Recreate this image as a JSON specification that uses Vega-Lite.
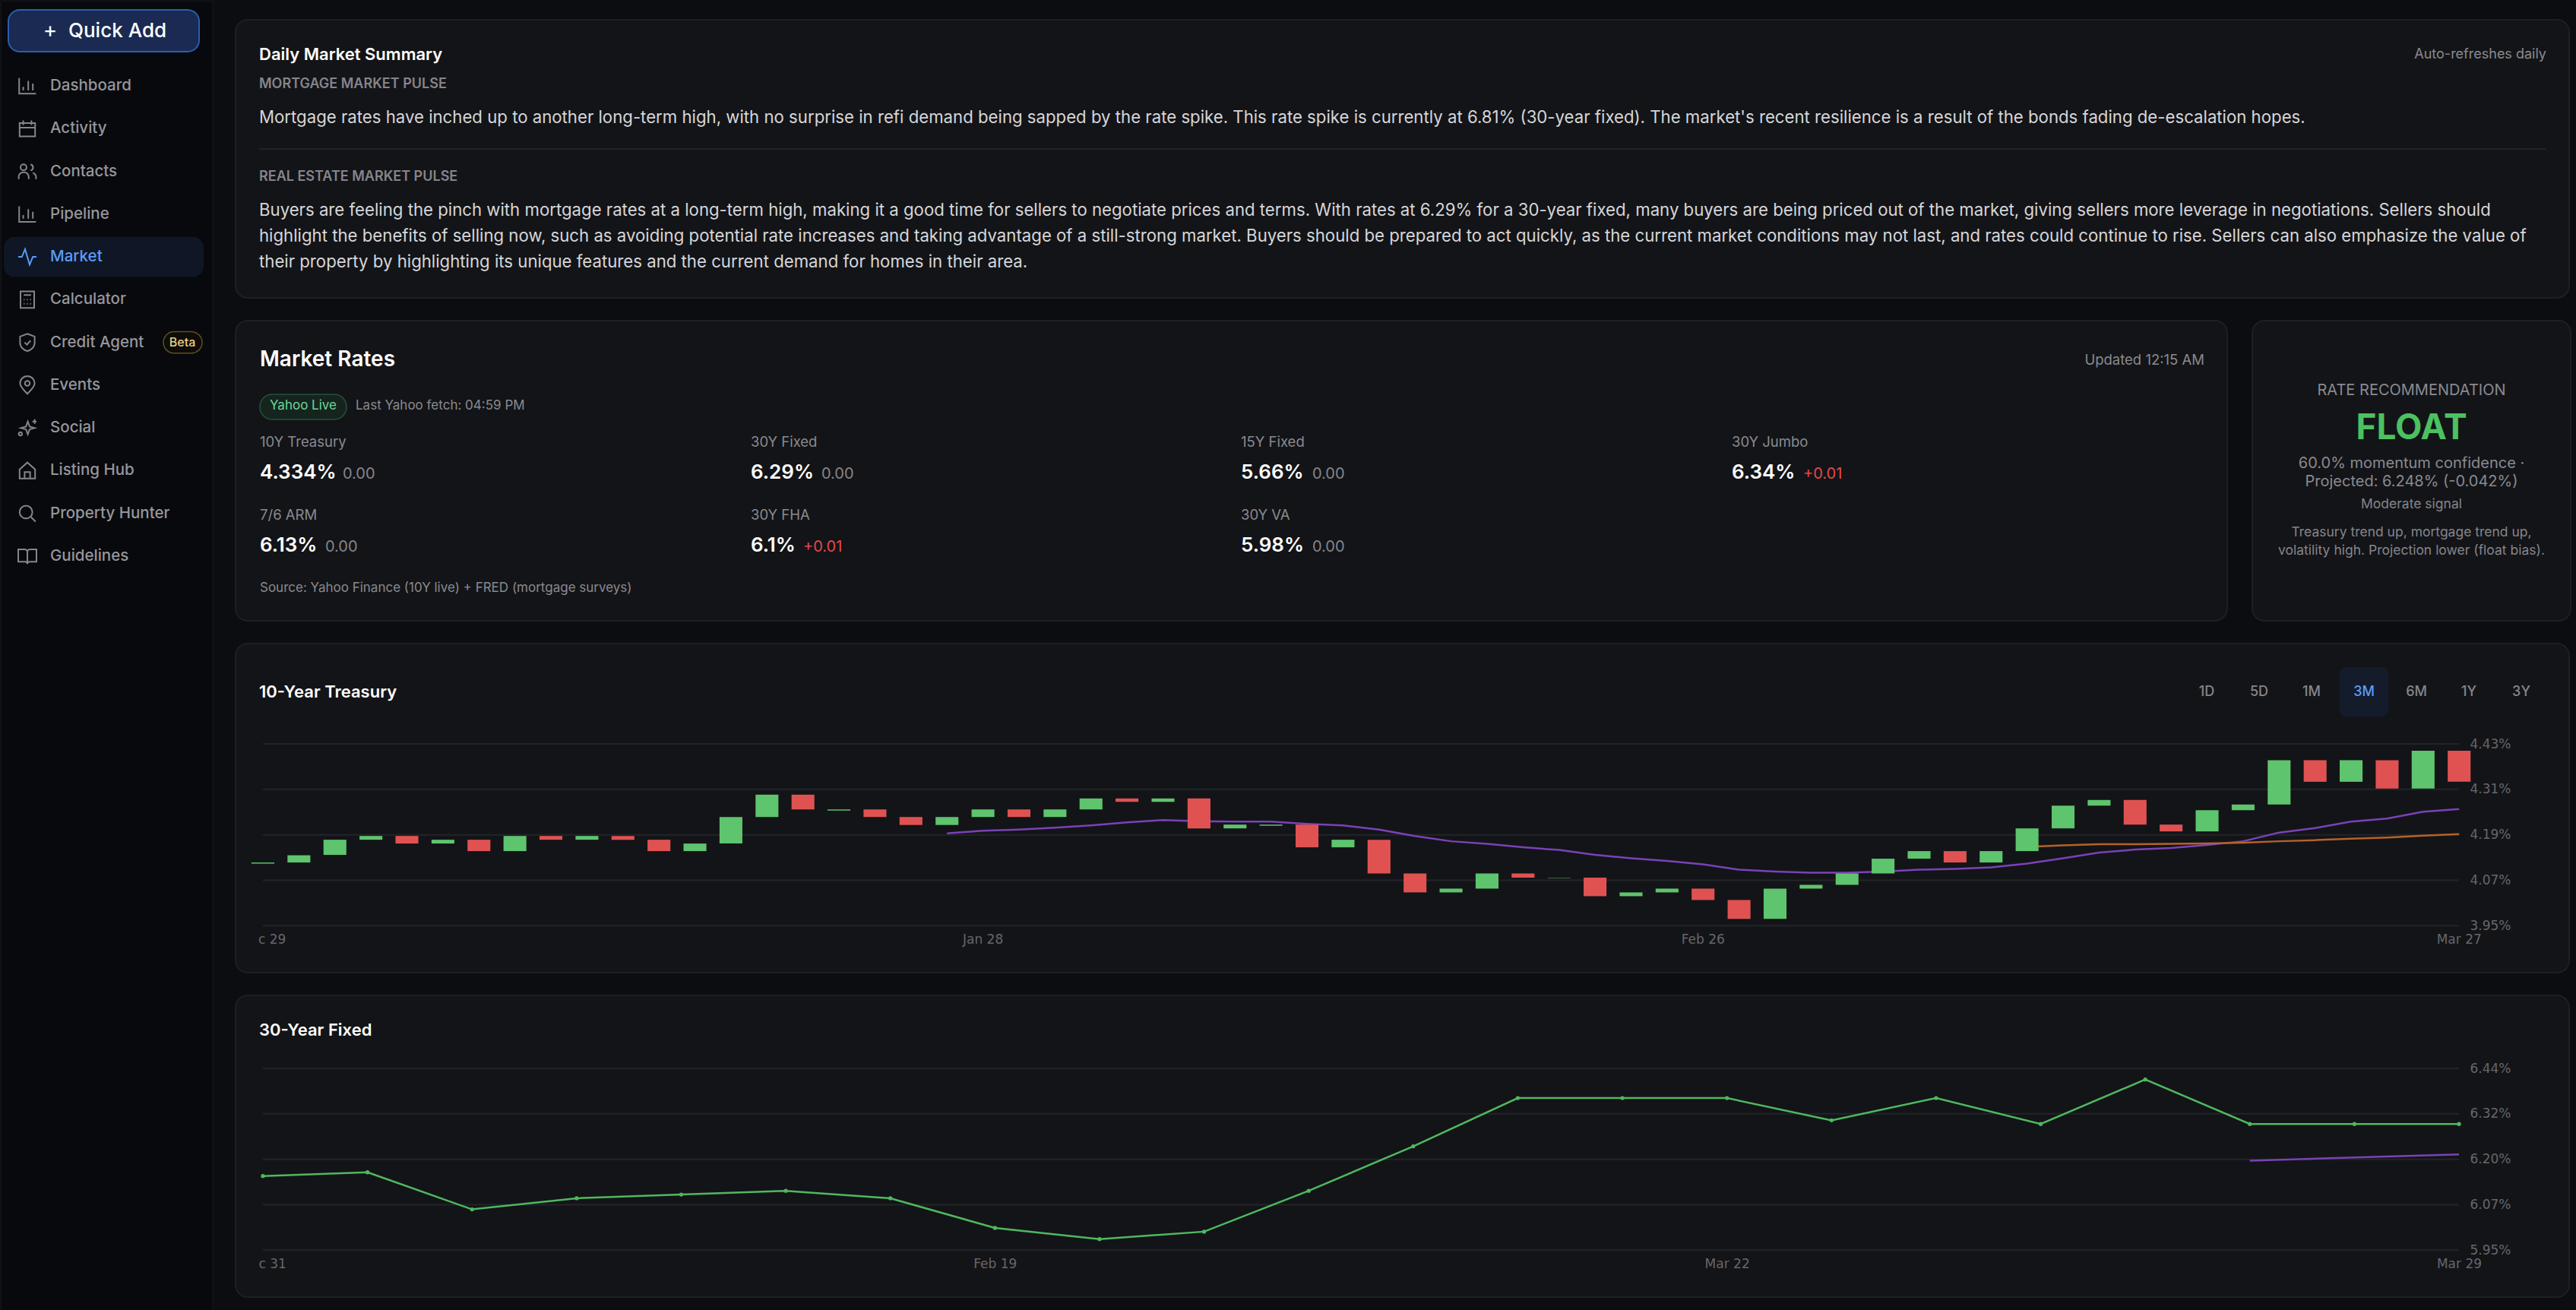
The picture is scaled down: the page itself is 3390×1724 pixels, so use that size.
{
  "$schema": "https://vega.github.io/schema/vega-lite/v6.json",
  "background": "#0c0d10",
  "padding": {"left": 0, "top": 0, "right": 12, "bottom": 0},
  "config": {
    "text": {"font": "Inter"},
    "axis": {"labelFont": "DejaVu Sans", "domain": false, "ticks": false, "grid": false, "title": null}
  },
  "datasets": {
    "candles": [
      {"date": "2025-12-29", "open": 4.114, "close": 4.117},
      {"date": "2025-12-30", "open": 4.117, "close": 4.136},
      {"date": "2025-12-31", "open": 4.137, "close": 4.177},
      {"date": "2026-01-02", "open": 4.177, "close": 4.187},
      {"date": "2026-01-05", "open": 4.187, "close": 4.167},
      {"date": "2026-01-06", "open": 4.167, "close": 4.177},
      {"date": "2026-01-07", "open": 4.177, "close": 4.147},
      {"date": "2026-01-08", "open": 4.147, "close": 4.187},
      {"date": "2026-01-09", "open": 4.187, "close": 4.177},
      {"date": "2026-01-12", "open": 4.177, "close": 4.187},
      {"date": "2026-01-13", "open": 4.187, "close": 4.177},
      {"date": "2026-01-14", "open": 4.177, "close": 4.147},
      {"date": "2026-01-15", "open": 4.147, "close": 4.167},
      {"date": "2026-01-16", "open": 4.167, "close": 4.237},
      {"date": "2026-01-20", "open": 4.237, "close": 4.296},
      {"date": "2026-01-21", "open": 4.296, "close": 4.257},
      {"date": "2026-01-22", "open": 4.254, "close": 4.257},
      {"date": "2026-01-23", "open": 4.257, "close": 4.237},
      {"date": "2026-01-26", "open": 4.237, "close": 4.216},
      {"date": "2026-01-27", "open": 4.216, "close": 4.237},
      {"date": "2026-01-28", "open": 4.237, "close": 4.257},
      {"date": "2026-01-29", "open": 4.257, "close": 4.237},
      {"date": "2026-01-30", "open": 4.237, "close": 4.257},
      {"date": "2026-02-02", "open": 4.257, "close": 4.286},
      {"date": "2026-02-03", "open": 4.286, "close": 4.277},
      {"date": "2026-02-04", "open": 4.277, "close": 4.286},
      {"date": "2026-02-05", "open": 4.286, "close": 4.207},
      {"date": "2026-02-06", "open": 4.207, "close": 4.217},
      {"date": "2026-02-09", "open": 4.214, "close": 4.217},
      {"date": "2026-02-10", "open": 4.217, "close": 4.157},
      {"date": "2026-02-11", "open": 4.157, "close": 4.177},
      {"date": "2026-02-12", "open": 4.177, "close": 4.088},
      {"date": "2026-02-13", "open": 4.088, "close": 4.038},
      {"date": "2026-02-17", "open": 4.038, "close": 4.048},
      {"date": "2026-02-18", "open": 4.048, "close": 4.088},
      {"date": "2026-02-19", "open": 4.088, "close": 4.077},
      {"date": "2026-02-20", "open": 4.076, "close": 4.077},
      {"date": "2026-02-23", "open": 4.077, "close": 4.028},
      {"date": "2026-02-24", "open": 4.028, "close": 4.038},
      {"date": "2026-02-25", "open": 4.038, "close": 4.048},
      {"date": "2026-02-26", "open": 4.048, "close": 4.018},
      {"date": "2026-02-27", "open": 4.018, "close": 3.968},
      {"date": "2026-03-02", "open": 3.968, "close": 4.048},
      {"date": "2026-03-03", "open": 4.048, "close": 4.058},
      {"date": "2026-03-04", "open": 4.058, "close": 4.088},
      {"date": "2026-03-05", "open": 4.088, "close": 4.127},
      {"date": "2026-03-06", "open": 4.127, "close": 4.147},
      {"date": "2026-03-09", "open": 4.147, "close": 4.117},
      {"date": "2026-03-10", "open": 4.117, "close": 4.147},
      {"date": "2026-03-11", "open": 4.147, "close": 4.207},
      {"date": "2026-03-12", "open": 4.207, "close": 4.267},
      {"date": "2026-03-13", "open": 4.267, "close": 4.282},
      {"date": "2026-03-16", "open": 4.282, "close": 4.217},
      {"date": "2026-03-17", "open": 4.217, "close": 4.199},
      {"date": "2026-03-18", "open": 4.199, "close": 4.255},
      {"date": "2026-03-19", "open": 4.255, "close": 4.27},
      {"date": "2026-03-20", "open": 4.27, "close": 4.387},
      {"date": "2026-03-23", "open": 4.387, "close": 4.33},
      {"date": "2026-03-24", "open": 4.33, "close": 4.387},
      {"date": "2026-03-25", "open": 4.387, "close": 4.312},
      {"date": "2026-03-26", "open": 4.312, "close": 4.412},
      {"date": "2026-03-27", "open": 4.412, "close": 4.33}
    ],
    "treasuryAvg20": [
      {"date": "2026-01-27", "value": 4.194},
      {"date": "2026-01-28", "value": 4.201},
      {"date": "2026-01-29", "value": 4.204},
      {"date": "2026-01-30", "value": 4.209},
      {"date": "2026-02-02", "value": 4.215},
      {"date": "2026-02-03", "value": 4.223},
      {"date": "2026-02-04", "value": 4.229},
      {"date": "2026-02-05", "value": 4.226},
      {"date": "2026-02-06", "value": 4.225},
      {"date": "2026-02-09", "value": 4.225},
      {"date": "2026-02-10", "value": 4.219},
      {"date": "2026-02-11", "value": 4.215},
      {"date": "2026-02-12", "value": 4.204},
      {"date": "2026-02-13", "value": 4.187},
      {"date": "2026-02-17", "value": 4.173},
      {"date": "2026-02-18", "value": 4.166},
      {"date": "2026-02-19", "value": 4.157},
      {"date": "2026-02-20", "value": 4.15},
      {"date": "2026-02-23", "value": 4.137},
      {"date": "2026-02-24", "value": 4.128},
      {"date": "2026-02-25", "value": 4.121},
      {"date": "2026-02-26", "value": 4.112},
      {"date": "2026-02-27", "value": 4.098},
      {"date": "2026-03-02", "value": 4.093},
      {"date": "2026-03-03", "value": 4.09},
      {"date": "2026-03-04", "value": 4.09},
      {"date": "2026-03-05", "value": 4.093},
      {"date": "2026-03-06", "value": 4.098},
      {"date": "2026-03-09", "value": 4.1},
      {"date": "2026-03-10", "value": 4.104},
      {"date": "2026-03-11", "value": 4.114},
      {"date": "2026-03-12", "value": 4.128},
      {"date": "2026-03-13", "value": 4.143},
      {"date": "2026-03-16", "value": 4.151},
      {"date": "2026-03-17", "value": 4.155},
      {"date": "2026-03-18", "value": 4.163},
      {"date": "2026-03-19", "value": 4.173},
      {"date": "2026-03-20", "value": 4.196},
      {"date": "2026-03-23", "value": 4.208},
      {"date": "2026-03-24", "value": 4.225},
      {"date": "2026-03-25", "value": 4.233},
      {"date": "2026-03-26", "value": 4.251},
      {"date": "2026-03-27", "value": 4.258}
    ],
    "treasuryAvg50": [
      {"date": "2026-03-11", "value": 4.158},
      {"date": "2026-03-12", "value": 4.162},
      {"date": "2026-03-13", "value": 4.165},
      {"date": "2026-03-16", "value": 4.165},
      {"date": "2026-03-17", "value": 4.166},
      {"date": "2026-03-18", "value": 4.167},
      {"date": "2026-03-19", "value": 4.169},
      {"date": "2026-03-20", "value": 4.173},
      {"date": "2026-03-23", "value": 4.176},
      {"date": "2026-03-24", "value": 4.18},
      {"date": "2026-03-25", "value": 4.183},
      {"date": "2026-03-26", "value": 4.188},
      {"date": "2026-03-27", "value": 4.192}
    ],
    "treasuryGrid": [
      {"level": 3.95, "start": "2025-12-29", "end": "2026-03-27"},
      {"level": 4.07, "start": "2025-12-29", "end": "2026-03-27"},
      {"level": 4.19, "start": "2025-12-29", "end": "2026-03-27"},
      {"level": 4.31, "start": "2025-12-29", "end": "2026-03-27"},
      {"level": 4.43, "start": "2025-12-29", "end": "2026-03-27"}
    ],
    "fixed30": [
      {"date": "2025-12-31", "rate": 6.15},
      {"date": "2026-01-08", "rate": 6.16},
      {"date": "2026-01-15", "rate": 6.06},
      {"date": "2026-01-22", "rate": 6.09},
      {"date": "2026-01-29", "rate": 6.1},
      {"date": "2026-02-05", "rate": 6.11},
      {"date": "2026-02-12", "rate": 6.09},
      {"date": "2026-02-19", "rate": 6.01},
      {"date": "2026-02-26", "rate": 5.98},
      {"date": "2026-03-05", "rate": 6},
      {"date": "2026-03-12", "rate": 6.11},
      {"date": "2026-03-19", "rate": 6.23},
      {"date": "2026-03-20", "rate": 6.36},
      {"date": "2026-03-21", "rate": 6.36},
      {"date": "2026-03-22", "rate": 6.36},
      {"date": "2026-03-23", "rate": 6.3},
      {"date": "2026-03-24", "rate": 6.36},
      {"date": "2026-03-25", "rate": 6.29},
      {"date": "2026-03-26", "rate": 6.41},
      {"date": "2026-03-27", "rate": 6.29},
      {"date": "2026-03-28", "rate": 6.29},
      {"date": "2026-03-29", "rate": 6.29}
    ],
    "fixedAvg": [
      {"date": "2026-03-27", "value": 6.191},
      {"date": "2026-03-28", "value": 6.2},
      {"date": "2026-03-29", "value": 6.208}
    ],
    "fixedGrid": [
      {"level": 5.95, "start": "2025-12-31", "end": "2026-03-29"},
      {"level": 6.0725, "start": "2025-12-31", "end": "2026-03-29"},
      {"level": 6.195, "start": "2025-12-31", "end": "2026-03-29"},
      {"level": 6.3175, "start": "2025-12-31", "end": "2026-03-29"},
      {"level": 6.44, "start": "2025-12-31", "end": "2026-03-29"}
    ]
  },
  "spacing": 28,
  "hconcat": [
    {
      "width": 279,
      "height": 1724,
      "view": {"fill": "#08090c", "stroke": "#17181c"},
      "encoding": {
        "x": {"field": "col", "type": "quantitative", "axis": null, "scale": {"domain": [0, 1, 2, 3, 4, 5, 6, 7, 8, 9], "range": [4, 10, 35, 65, 89, 214, 239, 261, 265, 267]}},
        "y": {"field": "row", "type": "quantitative", "axis": null, "scale": {"domain": [0, 1, 2, 3, 14], "range": [12, 40, 67, 112, 731]}}
      },
      "layer": [
        {
          "data": {"values": [{"col": 1, "col2": 7, "row": 0, "row2": 2}]},
          "mark": {"type": "rect", "fill": "#1a2a52", "stroke": "#2c5cb0", "strokeWidth": 2, "cornerRadius": 15},
          "encoding": {"x2": {"field": "col2"}, "y2": {"field": "row2"}}
        },
        {
          "data": {"values": [{"col": 0, "col2": 9, "row": 6.53, "row2": 7.47}]},
          "mark": {"type": "rect", "fill": "#0f1626", "cornerRadius": 14},
          "encoding": {"x2": {"field": "col2"}, "y2": {"field": "row2"}}
        },
        {
          "data": {"values": [{"col": 5, "col2": 8, "row": 8.75, "row2": 9.25}]},
          "mark": {"type": "rect", "fill": "#0d0c09", "stroke": "#5e4e22", "strokeWidth": 1.5, "cornerRadius": 14},
          "encoding": {"x2": {"field": "col2"}, "y2": {"field": "row2"}}
        },
        {
          "data": {"values": [
            {"col": 2, "row": 3, "item": "Dashboard"},
            {"col": 2, "row": 4, "item": "Activity"},
            {"col": 2, "row": 5, "item": "Contacts"},
            {"col": 2, "row": 6, "item": "Pipeline"},
            {"col": 2, "row": 7, "item": "Market"},
            {"col": 2, "row": 8, "item": "Calculator"},
            {"col": 2, "row": 9, "item": "Credit Agent"},
            {"col": 2, "row": 10, "item": "Events"},
            {"col": 2, "row": 11, "item": "Social"},
            {"col": 2, "row": 12, "item": "Listing Hub"},
            {"col": 2, "row": 13, "item": "Property Hunter"},
            {"col": 2, "row": 14, "item": "Guidelines"}
          ]},
          "mark": {"type": "point", "filled": false, "size": 576, "strokeWidth": 2, "opacity": 1},
          "encoding": {
            "shape": {
              "field": "item",
              "legend": null,
              "scale": {
                "domain": ["Dashboard", "Activity", "Contacts", "Pipeline", "Market", "Calculator", "Credit Agent", "Events", "Social", "Listing Hub", "Property Hunter", "Guidelines"],
                "range": [
                  "M-.9 -.85V.85H.95M-.45 .5V.1M.1 .5V-.55M.6 .5V-.25",
                  "M-.85 -.6H.85V.85H-.85ZM-.85 -.1H.85M-.45 -.9V-.4M.45 -.9V-.4",
                  "M-.75 -.45A.33 .33 0 1 1 -.09 -.45A.33 .33 0 1 1 -.75 -.45ZM-.95 .85V.6A.5 .5 0 0 1 -.45 .1H-.35A.5 .5 0 0 1 .15 .6V.85M.35 -.75A.33 .33 0 0 1 .35 -.1M.6 .15A.5 .5 0 0 1 .95 .6V.85",
                  "M-.9 -.85V.85H.95M-.45 .5V.1M.1 .5V-.55M.6 .5V-.25",
                  "M-1 0H-.6L-.25 -.85L.25 .85L.6 0H1",
                  "M-.75 -.9H.75V.9H-.75ZM-.4 -.5H.4M-.4 0H-.3M-.05 0H.05M.3 0H.4M-.4 .45H-.3M-.05 .45H.05M.3 .45H.4",
                  "M0 -.95L.8 -.65V.05C.8 .55 .35 .85 0 .95C-.35 .85 -.8 .55 -.8 .05V-.65ZM-.3 0L-.05 .25L.35 -.2",
                  "M0 .95C-.5 .45 -.8 .05 -.8 -.2A.8 .8 0 0 1 .8 -.2C.8 .05 .5 .45 0 .95ZM-.27 -.2A.27 .27 0 1 1 .27 -.2A.27 .27 0 1 1 -.27 -.2Z",
                  "M.05 -.7L.25 -.15L.8 0L.25 .15L.05 .7L-.15 .15L-.7 0L-.15 -.15ZM.8 -.95V-.45M.55 -.7H1M-.95 .65A.18 .18 0 1 1 -.59 .65A.18 .18 0 1 1 -.95 .65Z",
                  "M-.85 -.15L0 -.9L.85 -.15V.85H-.85ZM-.3 .85V.15H.3V.85",
                  "M-.85 -.15A.7 .7 0 1 1 .55 -.15A.7 .7 0 1 1 -.85 -.15ZM.4 .4L.9 .9",
                  "M0 -.5V.85M-1 -.75H-.3A.3 .3 0 0 1 0 -.45A.3 .3 0 0 1 .3 -.75H1V.6H.25A.25 .25 0 0 0 0 .85A.25 .25 0 0 0 -.25 .6H-1Z"
                ]
              }
            },
            "stroke": {"condition": {"test": "datum.item == 'Market'", "value": "#5b9bf5"}, "value": "#85858c"}
          }
        },
        {
          "data": {"values": [
            {"col": 3, "row": 3, "text": "Dashboard"},
            {"col": 3, "row": 4, "text": "Activity"},
            {"col": 3, "row": 5, "text": "Contacts"},
            {"col": 3, "row": 6, "text": "Pipeline"},
            {"col": 3, "row": 7, "text": "Market"},
            {"col": 3, "row": 8, "text": "Calculator"},
            {"col": 3, "row": 9, "text": "Credit Agent"},
            {"col": 3, "row": 10, "text": "Events"},
            {"col": 3, "row": 11, "text": "Social"},
            {"col": 3, "row": 12, "text": "Listing Hub"},
            {"col": 3, "row": 13, "text": "Property Hunter"},
            {"col": 3, "row": 14, "text": "Guidelines"}
          ]},
          "mark": {"type": "text", "align": "left", "baseline": "middle", "fontSize": 20.5, "fontWeight": 500},
          "encoding": {
            "text": {"field": "text"},
            "color": {"condition": {"test": "datum.text == 'Market'", "value": "#5b9bf5"}, "value": "#96969c"}
          }
        },
        {
          "data": {"values": [{"col": 4, "row": 1, "text": "Quick Add"}]},
          "mark": {"type": "text", "align": "left", "baseline": "middle", "fontSize": 26, "fontWeight": 500, "color": "#ffffff"},
          "encoding": {"text": {"field": "text"}}
        },
        {
          "data": {"values": [{"col": 3, "row": 1, "text": "+"}]},
          "mark": {"type": "text", "align": "center", "baseline": "middle", "fontSize": 28, "color": "#ffffff"},
          "encoding": {"text": {"field": "text"}}
        },
        {
          "data": {"values": [{"col": 6, "row": 9, "text": "Beta"}]},
          "mark": {"type": "text", "align": "center", "baseline": "middle", "fontSize": 16, "fontWeight": 500, "color": "#e8cf80"},
          "encoding": {"text": {"field": "text"}}
        }
      ]
    },
    {
      "spacing": 23,
      "vconcat": [
        {
          "width": 10,
          "height": 1,
          "data": {"values": [{"gap": 1}]},
          "mark": {"type": "rect", "opacity": 0}
        },
        {
          "spacing": 28,
          "vconcat": [
            {
              "width": 3071,
              "height": 366,
              "view": {"fill": "#131417", "stroke": "#1e1f23", "strokeWidth": 2, "cornerRadius": 16},
              "encoding": {
                "x": {"field": "col", "type": "nominal", "axis": null, "scale": {"type": "point", "padding": 0, "domain": ["left", "right"], "range": [31, 3041]}},
                "y": {"field": "line", "type": "quantitative", "axis": null, "scale": {"domain": [1, 2, 3, 4, 5, 6, 7, 8], "range": [46, 85, 129, 170, 207, 251, 285, 319]}}
              },
              "layer": [
                {
                  "data": {"values": [{"col": "left", "col2": "right", "line": 4}]},
                  "mark": {"type": "rule", "stroke": "#222327", "strokeWidth": 2},
                  "encoding": {"x2": {"field": "col2"}}
                },
                {
                  "data": {"values": [{"col": "left", "line": 1, "text": "Daily Market Summary"}]},
                  "mark": {"type": "text", "align": "left", "baseline": "middle", "fontSize": 22, "fontWeight": 600, "color": "#ffffff"},
                  "encoding": {"text": {"field": "text"}}
                },
                {
                  "data": {"values": [{"col": "right", "line": 1, "text": "Auto-refreshes daily"}]},
                  "mark": {"type": "text", "align": "right", "baseline": "middle", "fontSize": 18, "color": "#8a8a90"},
                  "encoding": {"text": {"field": "text"}}
                },
                {
                  "data": {"values": [
                    {"col": "left", "line": 2, "text": "MORTGAGE MARKET PULSE"},
                    {"col": "left", "line": 5, "text": "REAL ESTATE MARKET PULSE"}
                  ]},
                  "mark": {"type": "text", "align": "left", "baseline": "middle", "fontSize": 18, "fontWeight": 600, "color": "#85858c"},
                  "encoding": {"text": {"field": "text"}}
                },
                {
                  "data": {"values": [
                    {"col": "left", "line": 3, "text": "Mortgage rates have inched up to another long-term high, with no surprise in refi demand being sapped by the rate spike. This rate spike is currently at 6.81% (30-year fixed). The market's recent resilience is a result of the bonds fading de-escalation hopes."},
                    {"col": "left", "line": 6, "text": "Buyers are feeling the pinch with mortgage rates at a long-term high, making it a good time for sellers to negotiate prices and terms. With rates at 6.29% for a 30-year fixed, many buyers are being priced out of the market, giving sellers more leverage in negotiations. Sellers should"},
                    {"col": "left", "line": 7, "text": "highlight the benefits of selling now, such as avoiding potential rate increases and taking advantage of a still-strong market. Buyers should be prepared to act quickly, as the current market conditions may not last, and rates could continue to rise. Sellers can also emphasize the value of"},
                    {"col": "left", "line": 8, "text": "their property by highlighting its unique features and the current demand for homes in their area."}
                  ]},
                  "mark": {"type": "text", "align": "left", "baseline": "middle", "fontSize": 22.2, "color": "#d6d6da"},
                  "encoding": {"text": {"field": "text"}}
                }
              ]
            },
            {
              "spacing": 31,
              "hconcat": [
                {
                  "width": 2621,
                  "height": 395,
                  "view": {"fill": "#131417", "stroke": "#1e1f23", "strokeWidth": 2, "cornerRadius": 16},
                  "encoding": {
                    "x": {"field": "slot", "type": "quantitative", "axis": null, "scale": {"domain": [0, 1, 2, 3, 4, 5, 6, 7, 8, 9, 10, 11, 12, 13], "range": [32, 89, 118, 141, 146, 158, 678, 747, 771, 1323, 1417, 1969, 2063, 2591]}},
                    "y": {"field": "line", "type": "quantitative", "axis": null, "scale": {"domain": [1, 2, 3, 4, 5, 6, 7, 8, 9], "range": [52, 97, 112, 130, 160, 208, 256, 304, 352]}}
                  },
                  "layer": [
                    {
                      "data": {"values": [{"slot": 0, "slot2": 4, "line": 2, "line2": 4}]},
                      "mark": {"type": "rect", "fill": "#15251e", "stroke": "#245239", "strokeWidth": 1.5, "cornerRadius": 16},
                      "encoding": {"x2": {"field": "slot2"}, "y2": {"field": "line2"}}
                    },
                    {
                      "data": {"values": [{"slot": 0, "line": 1, "text": "Market Rates"}]},
                      "mark": {"type": "text", "align": "left", "baseline": "middle", "fontSize": 28, "fontWeight": 600, "color": "#ffffff"},
                      "encoding": {"text": {"field": "text"}}
                    },
                    {
                      "data": {"values": [{"slot": 13, "line": 1, "text": "Updated 12:15 AM"}]},
                      "mark": {"type": "text", "align": "right", "baseline": "middle", "fontSize": 18.5, "color": "#8a8a90"},
                      "encoding": {"text": {"field": "text"}}
                    },
                    {
                      "data": {"values": [{"slot": 1, "line": 3, "text": "Yahoo Live"}]},
                      "mark": {"type": "text", "align": "center", "baseline": "middle", "fontSize": 17, "color": "#6fd69a"},
                      "encoding": {"text": {"field": "text"}}
                    },
                    {
                      "data": {"values": [
                        {"slot": 5, "line": 3, "text": "Last Yahoo fetch: 04:59 PM"},
                        {"slot": 0, "line": 9, "text": "Source: Yahoo Finance (10Y live) + FRED (mortgage surveys)"}
                      ]},
                      "mark": {"type": "text", "align": "left", "baseline": "middle", "fontSize": 17, "color": "#8a8a90"},
                      "encoding": {"text": {"field": "text"}}
                    },
                    {
                      "data": {"values": [
                        {"slot": 0, "line": 5, "text": "10Y Treasury"},
                        {"slot": 6, "line": 5, "text": "30Y Fixed"},
                        {"slot": 9, "line": 5, "text": "15Y Fixed"},
                        {"slot": 11, "line": 5, "text": "30Y Jumbo"},
                        {"slot": 0, "line": 7, "text": "7/6 ARM"},
                        {"slot": 6, "line": 7, "text": "30Y FHA"},
                        {"slot": 9, "line": 7, "text": "30Y VA"}
                      ]},
                      "mark": {"type": "text", "align": "left", "baseline": "middle", "fontSize": 18.5, "color": "#8a8a90"},
                      "encoding": {"text": {"field": "text"}}
                    },
                    {
                      "data": {"values": [
                        {"slot": 0, "line": 6, "text": "4.334%"},
                        {"slot": 6, "line": 6, "text": "6.29%"},
                        {"slot": 9, "line": 6, "text": "5.66%"},
                        {"slot": 11, "line": 6, "text": "6.34%"},
                        {"slot": 0, "line": 8, "text": "6.13%"},
                        {"slot": 6, "line": 8, "text": "6.1%"},
                        {"slot": 9, "line": 8, "text": "5.98%"}
                      ]},
                      "mark": {"type": "text", "align": "left", "baseline": "alphabetic", "fontSize": 26, "fontWeight": 600, "color": "#ffffff"},
                      "encoding": {"text": {"field": "text"}}
                    },
                    {
                      "data": {"values": [
                        {"slot": 3, "line": 6, "text": "0.00"},
                        {"slot": 8, "line": 6, "text": "0.00"},
                        {"slot": 10, "line": 6, "text": "0.00"},
                        {"slot": 12, "line": 6, "text": "+0.01"},
                        {"slot": 2, "line": 8, "text": "0.00"},
                        {"slot": 7, "line": 8, "text": "+0.01"},
                        {"slot": 10, "line": 8, "text": "0.00"}
                      ]},
                      "mark": {"type": "text", "align": "left", "baseline": "alphabetic", "fontSize": 20},
                      "encoding": {
                        "text": {"field": "text"},
                        "color": {"condition": {"test": "datum.text == '+0.01'", "value": "#e5484d"}, "value": "#85858c"}
                      }
                    }
                  ]
                },
                {
                  "width": 419,
                  "height": 395,
                  "view": {"fill": "#131417", "stroke": "#1e1f23", "strokeWidth": 2, "cornerRadius": 16},
                  "data": {"values": [
                    {"line": 1, "text": "RATE RECOMMENDATION"},
                    {"line": 2, "text": "FLOAT"},
                    {"line": 3, "text": "60.0% momentum confidence ·"},
                    {"line": 4, "text": "Projected: 6.248% (-0.042%)"},
                    {"line": 5, "text": "Moderate signal"},
                    {"line": 6, "text": "Treasury trend up, mortgage trend up,"},
                    {"line": 7, "text": "volatility high. Projection lower (float bias)."}
                  ]},
                  "encoding": {
                    "x": {"datum": "center", "type": "nominal", "axis": null},
                    "y": {"field": "line", "type": "quantitative", "axis": null, "scale": {"domain": [1, 2, 3, 4, 5, 6, 7], "range": [92, 142, 188, 212, 242, 279, 303]}},
                    "text": {"field": "text"}
                  },
                  "layer": [
                    {
                      "transform": [{"filter": "datum.line == 1"}],
                      "mark": {"type": "text", "baseline": "middle", "fontSize": 20, "color": "#8a8a90"}
                    },
                    {
                      "transform": [{"filter": "datum.line == 2"}],
                      "mark": {"type": "text", "baseline": "middle", "fontSize": 46, "fontWeight": 700, "color": "#4cc160"}
                    },
                    {
                      "transform": [{"filter": "datum.line == 3 || datum.line == 4"}],
                      "mark": {"type": "text", "baseline": "middle", "fontSize": 20, "color": "#8a8a90"}
                    },
                    {
                      "transform": [{"filter": "datum.line >= 5"}],
                      "mark": {"type": "text", "baseline": "middle", "fontSize": 17.5, "color": "#85858c"}
                    }
                  ]
                }
              ]
            },
            {
              "width": 3071,
              "height": 433,
              "view": {"fill": "#131417", "stroke": "#1e1f23", "strokeWidth": 2, "cornerRadius": 16},
              "resolve": {"scale": {"x": "independent", "y": "independent"}, "axis": {"x": "independent", "y": "independent"}},
              "layer": [
                {
                  "encoding": {
                    "x": {
                      "field": "date",
                      "type": "ordinal",
                      "scale": {"type": "band", "range": [12.3, 2949.9], "paddingInner": 0.365, "paddingOuter": 0.1825},
                      "axis": {
                        "orient": "bottom",
                        "offset": -61.7,
                        "values": ["2025-12-29", "2026-01-28", "2026-02-26", "2026-03-27"],
                        "labelExpr": "datum.value == '2025-12-29' ? 'c 29' : datum.value == '2026-01-28' ? 'Jan 28' : datum.value == '2026-02-26' ? 'Feb 26' : 'Mar 27'",
                        "labelAngle": 0,
                        "labelAlign": {"condition": {"test": "datum.value == '2025-12-29'", "value": "left"}, "value": "center"},
                        "labelOffset": {"condition": {"test": "datum.value == '2025-12-29'", "value": -6}, "value": 0},
                        "labelBaseline": "middle",
                        "labelPadding": 18,
                        "labelFontSize": 17,
                        "labelColor": "#66666c",
                        "labelOverlap": false,
                        "labelBound": false,
                        "labelFlush": false
                      }
                    },
                    "y": {
                      "type": "quantitative",
                      "scale": {"domain": [3.95, 4.43], "range": [371.3, 132], "nice": false, "zero": false},
                      "axis": {
                        "orient": "right",
                        "offset": -145,
                        "values": [3.95, 4.07, 4.19, 4.31, 4.43],
                        "labelExpr": "format(datum.value, '.2f') + '%'",
                        "labelPadding": 14,
                        "labelFontSize": 17,
                        "labelColor": "#66666c",
                        "labelOverlap": false,
                        "labelBound": false,
                        "labelFlush": false
                      }
                    }
                  },
                  "layer": [
                    {
                      "data": {"name": "treasuryGrid"},
                      "mark": {"type": "rule", "stroke": "#232428", "strokeWidth": 2},
                      "encoding": {"x": {"field": "start"}, "x2": {"field": "end"}, "y": {"field": "level"}}
                    },
                    {
                      "data": {"name": "treasuryAvg20"},
                      "mark": {"type": "line", "stroke": "#7a42b8", "strokeWidth": 2.5},
                      "encoding": {"y": {"field": "value"}}
                    },
                    {
                      "data": {"name": "treasuryAvg50"},
                      "mark": {"type": "line", "stroke": "#b5622a", "strokeWidth": 2.5},
                      "encoding": {"y": {"field": "value"}}
                    },
                    {
                      "data": {"name": "candles"},
                      "mark": {"type": "bar"},
                      "encoding": {
                        "y": {"field": "open"},
                        "y2": {"field": "close"},
                        "color": {"condition": {"test": "datum.close >= datum.open", "value": "#5ec46e"}, "value": "#e05252"}
                      }
                    }
                  ]
                },
                {
                  "data": {"values": [{"range": "3M", "panel": "buttons"}]},
                  "mark": {"type": "rect", "fill": "#141b2b", "cornerRadius": 10},
                  "encoding": {
                    "x": {"field": "range", "type": "nominal", "axis": null, "scale": {"type": "band", "domain": ["1D", "5D", "1M", "3M", "6M", "1Y", "3Y"], "range": [2559.5, 3042.5], "paddingInner": 0.06, "paddingOuter": 0.03}},
                    "y": {"field": "panel", "type": "nominal", "axis": null, "scale": {"type": "band", "domain": ["buttons"], "range": [31, 96], "padding": 0}}
                  }
                },
                {
                  "data": {"values": [
                    {"range": "1D", "panel": "buttons"},
                    {"range": "5D", "panel": "buttons"},
                    {"range": "1M", "panel": "buttons"},
                    {"range": "3M", "panel": "buttons"},
                    {"range": "6M", "panel": "buttons"},
                    {"range": "1Y", "panel": "buttons"},
                    {"range": "3Y", "panel": "buttons"}
                  ]},
                  "mark": {"type": "text", "align": "center", "baseline": "middle", "fontSize": 18, "fontWeight": 500},
                  "encoding": {
                    "x": {"field": "range", "type": "nominal", "axis": null, "scale": {"type": "band", "domain": ["1D", "5D", "1M", "3M", "6M", "1Y", "3Y"], "range": [2559.5, 3042.5], "paddingInner": 0.06, "paddingOuter": 0.03}},
                    "y": {"field": "panel", "type": "nominal", "axis": null, "scale": {"type": "band", "domain": ["buttons"], "range": [31, 96], "padding": 0}},
                    "text": {"field": "range"},
                    "color": {"condition": {"test": "datum.range == '3M'", "value": "#5b9bf5"}, "value": "#85858c"}
                  }
                },
                {
                  "data": {"values": [{"title": "10-Year Treasury"}]},
                  "mark": {"type": "text", "align": "left", "baseline": "middle", "fontSize": 22, "fontWeight": 600, "color": "#ffffff"},
                  "encoding": {
                    "x": {"field": "title", "type": "nominal", "axis": null, "scale": {"type": "point", "range": [31, 31]}},
                    "y": {"field": "title", "type": "nominal", "axis": null, "scale": {"type": "point", "range": [64, 64]}},
                    "text": {"field": "title"}
                  }
                }
              ]
            },
            {
              "width": 3071,
              "height": 397,
              "view": {"fill": "#131417", "stroke": "#1e1f23", "strokeWidth": 2, "cornerRadius": 16},
              "resolve": {"scale": {"x": "independent", "y": "independent"}, "axis": {"x": "independent", "y": "independent"}},
              "layer": [
                {
                  "encoding": {
                    "x": {
                      "field": "date",
                      "type": "ordinal",
                      "scale": {"type": "point", "padding": 0, "range": [36, 2926]},
                      "axis": {
                        "orient": "bottom",
                        "offset": -61.7,
                        "values": ["2025-12-31", "2026-02-19", "2026-03-22", "2026-03-29"],
                        "labelExpr": "datum.value == '2025-12-31' ? 'c 31' : datum.value == '2026-02-19' ? 'Feb 19' : datum.value == '2026-03-22' ? 'Mar 22' : 'Mar 29'",
                        "labelAngle": 0,
                        "labelAlign": {"condition": {"test": "datum.value == '2025-12-31'", "value": "left"}, "value": "center"},
                        "labelOffset": {"condition": {"test": "datum.value == '2025-12-31'", "value": -6}, "value": 0},
                        "labelBaseline": "middle",
                        "labelPadding": 18,
                        "labelFontSize": 17,
                        "labelColor": "#66666c",
                        "labelOverlap": false,
                        "labelBound": false,
                        "labelFlush": false
                      }
                    },
                    "y": {
                      "type": "quantitative",
                      "scale": {"domain": [5.95, 6.44], "range": [335.3, 96], "nice": false, "zero": false},
                      "axis": {
                        "orient": "right",
                        "offset": -145,
                        "values": [5.95, 6.0725, 6.195, 6.3175, 6.44],
                        "labelExpr": "format(datum.value, '.2f') + '%'",
                        "labelPadding": 14,
                        "labelFontSize": 17,
                        "labelColor": "#66666c",
                        "labelOverlap": false,
                        "labelBound": false,
                        "labelFlush": false
                      }
                    }
                  },
                  "layer": [
                    {
                      "data": {"name": "fixedGrid"},
                      "mark": {"type": "rule", "stroke": "#232428", "strokeWidth": 2},
                      "encoding": {"x": {"field": "start"}, "x2": {"field": "end"}, "y": {"field": "level"}}
                    },
                    {
                      "data": {"name": "fixedAvg"},
                      "mark": {"type": "line", "stroke": "#7a42b8", "strokeWidth": 2.5},
                      "encoding": {"y": {"field": "value"}}
                    },
                    {
                      "data": {"name": "fixed30"},
                      "mark": {"type": "line", "stroke": "#4fb860", "strokeWidth": 2.5, "point": {"filled": true, "fill": "#4fb860", "size": 28}},
                      "encoding": {"y": {"field": "rate"}}
                    }
                  ]
                },
                {
                  "data": {"values": [{"title": "30-Year Fixed"}]},
                  "mark": {"type": "text", "align": "left", "baseline": "middle", "fontSize": 22, "fontWeight": 600, "color": "#ffffff"},
                  "encoding": {
                    "x": {"field": "title", "type": "nominal", "axis": null, "scale": {"type": "point", "range": [31, 31]}},
                    "y": {"field": "title", "type": "nominal", "axis": null, "scale": {"type": "point", "range": [46, 46]}},
                    "text": {"field": "title"}
                  }
                }
              ]
            }
          ]
        }
      ]
    }
  ]
}
